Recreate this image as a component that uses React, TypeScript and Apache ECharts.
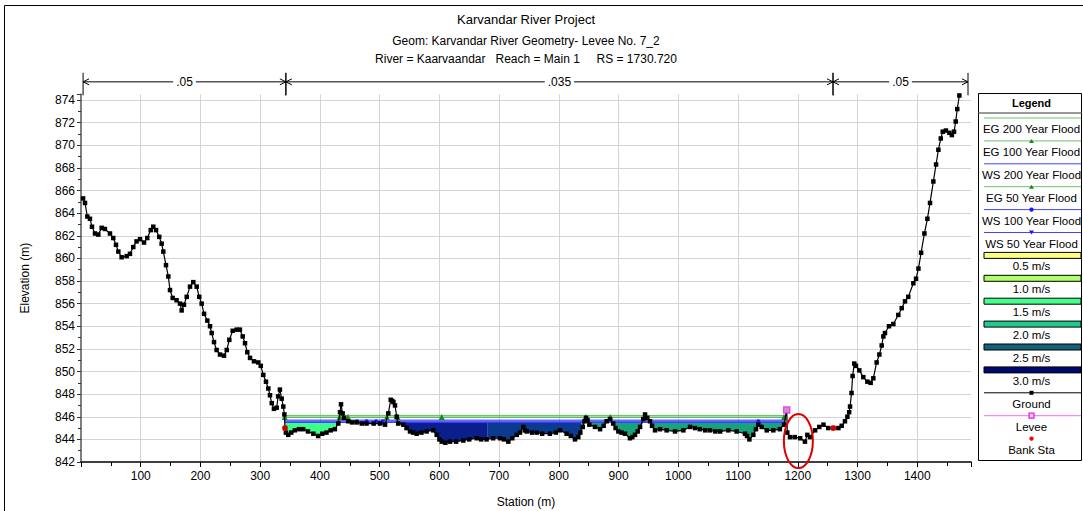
import React, { useEffect, useRef } from 'react';
import * as echarts from 'echarts';

// ---- Cross-section data -------------------------------------------------
const titleLines = [
  'Karvandar River Project',
  'Geom: Karvandar River Geometry- Levee No. 7_2',
  'River = Kaarvaandar   Reach = Main 1     RS = 1730.720',
];

// Ground points: [station (m), elevation (m)]
const groundProfile: [number, number][] = [
  [3.5, 865.3], [6.7, 864.9], [10.6, 863.7], [15, 863.5], [18.4, 862.8], [23.4, 862.2], [29, 862.1],
  [34.6, 862.7], [40, 862.6], [48.5, 862.2], [54, 861.8], [58.6, 861.2], [62.5, 860.6], [68, 860.1],
  [76.5, 860.2], [82, 860.4], [87.5, 861.0], [93, 861.5], [98.8, 861.7], [105.5, 861.4], [111, 861.8],
  [116.7, 862.5], [121, 862.8], [125.6, 862.5], [131, 861.9], [135, 861.3], [137.8, 860.6], [142.3, 859.4],
  [146.2, 858.4], [149, 857.2], [153.5, 856.5], [160, 856.3], [165.7, 856.0], [168.5, 855.4], [172.4, 855.9],
  [177, 856.6], [182.5, 857.5], [188, 857.9], [193.7, 857.5], [198, 856.6], [202, 856.0], [206, 855.1],
  [211.5, 854.5], [216, 854.0], [218.8, 853.4], [222.7, 852.6], [227, 851.9], [232.7, 851.5], [239.4, 851.4],
  [244, 851.9], [248.3, 852.8], [254, 853.6], [260.7, 853.7], [266, 853.7], [270.7, 853.1], [274.6, 852.5],
  [278.4, 851.7], [283, 851.2], [289.6, 850.9], [296.8, 850.8], [300.9, 850.5], [305.2, 849.7], [309.7, 849.1],
  [313.6, 848.5], [316.4, 847.9], [319.3, 847.2], [323, 846.7], [327.6, 846.8], [330, 847.8], [333, 848.4],
  [336, 847.6], [338.7, 846.9], [340.5, 846.2], [341.5, 845.0], [343, 844.6], [347, 844.4], [352, 844.6],
  [358, 844.8], [365, 844.9], [372, 844.9], [380, 844.7], [389, 844.5], [397, 844.3], [404, 844.5],
  [411, 844.6], [418, 844.8], [425, 844.9], [430.8, 845.4], [433.6, 846.4], [435.3, 847.1], [438, 846.3],
  [440.3, 845.9], [447.5, 845.6], [454, 845.5], [461.5, 845.5], [470, 845.4], [478, 845.4], [490, 845.4],
  [500.6, 845.4], [509, 845.3], [514.5, 846.3], [518.5, 847.5], [521, 847.4], [523, 847.3], [525.7, 847.0],
  [528.5, 846.0], [531, 845.4], [539.6, 845.3], [545, 845.0], [550.8, 844.7], [556, 844.6], [562, 844.5],
  [570, 844.6], [578.6, 844.7], [589.8, 844.8], [595.5, 844.4], [600, 844.0], [604, 843.8], [610, 843.7],
  [617.8, 843.8], [628, 843.8], [640, 843.9], [650, 844.0], [662.5, 844.1], [670, 844.0], [679, 844.0],
  [690, 844.1], [701.5, 844.1], [708, 844.0], [715.4, 843.8], [722, 844.1], [729.5, 844.4], [735, 844.6],
  [740.6, 845.1], [743, 844.8], [746.2, 844.7], [755, 844.6], [763, 844.6], [772, 844.5], [785, 844.5],
  [795, 844.6], [802, 844.8], [813, 844.5], [820, 844.3], [827, 844.0], [832.6, 844.2], [836, 844.6],
  [840, 845.1], [843, 845.6], [845.5, 845.9], [848, 845.7], [851, 845.3], [860.5, 845.1], [869, 844.9],
  [875, 845.2], [880, 845.6], [885.6, 845.8], [891, 845.4], [895, 845.0], [899.6, 844.7], [905, 844.6],
  [910.8, 844.5], [919, 844.1], [923, 844.2], [927.5, 844.4], [932, 844.7], [936, 845.1], [941.4, 845.8],
  [944.3, 846.2], [948, 845.9], [952.6, 845.6], [956, 845.2], [961, 844.8], [969.4, 844.9], [980.5, 844.8],
  [994.5, 844.7], [1008.5, 844.8], [1019.7, 845.1], [1028, 845.0], [1036, 844.9], [1045, 844.8], [1053, 844.8],
  [1062, 844.7], [1070, 844.7], [1083.7, 844.8], [1097.7, 844.7], [1111.7, 844.5], [1115, 844.3], [1119, 844.0],
  [1125.6, 844.4], [1130, 844.9], [1134, 845.3], [1139.6, 845.1], [1148, 844.8], [1159, 844.8], [1170, 844.9],
  [1177, 845.3], [1181.5, 846.6], [1182.5, 844.6], [1187, 844.2], [1195, 844.2], [1204, 844.1], [1212, 843.8],
  [1216, 844.4], [1220.5, 844.2], [1229, 844.8], [1236, 845.1], [1243, 845.3], [1251, 845.0], [1259.5, 845.0],
  [1268, 845.0], [1273.5, 845.2], [1279, 845.6], [1283, 846.0], [1286, 846.4], [1287.5, 846.9], [1290, 848.1],
  [1291.8, 849.6], [1294.6, 850.7], [1297.4, 850.5], [1303, 850.1], [1309.7, 849.5], [1316.5, 849.1], [1322, 849.0],
  [1326.5, 849.4], [1332, 850.8], [1336.6, 851.5], [1340.5, 852.3], [1343.3, 853.1], [1346, 853.4], [1352.7, 854.0],
  [1360, 854.2], [1368.3, 855.0], [1374, 855.6], [1379.5, 856.2], [1385, 856.6], [1393.5, 857.8], [1398, 858.2],
  [1402, 859.1], [1406.5, 860.5], [1412, 862.2], [1417, 863.5], [1421.4, 864.9], [1427, 866.8], [1431.5, 868.3],
  [1435.4, 869.6], [1439.4, 870.6], [1442.7, 871.2], [1448, 871.3], [1453.8, 871.1], [1458, 870.9], [1461.6, 871.2],
  [1464.4, 872.1], [1467, 873.2], [1470.5, 874.4], [1473, 875.6],
];

const bankStations: [number, number][] = [[341.5, 845.0], [1259.5, 845.0]];
const leveePoints: [number, number][] = [[1181.5, 846.6]];

// Water surface / energy grade profiles
const profileNames = ['EG 200 Year Flood', 'EG 100 Year Flood', 'WS 200 Year Flood', 'EG 50 Year Flood', 'WS 100 Year Flood', 'WS 50 Year Flood'];
const profileElev = [846.12, 845.98, 845.7, 845.93, 845.6, 845.5];
const waterLeft = 341;
const waterRight = 1180;
const egMarkerStations = [341, 433, 447, 512, 530, 604, 845, 886, 944, 1177];
const wsMarkerStations = [462, 478, 494, 505, 1134];

// Velocity distribution
const velocityClasses = [0.5, 1.0, 1.5, 2.0, 2.5, 3.0];
const zoneStart = [341, 438, 528, 680, 838];
const zoneEnd = [438, 528, 680, 838, 1180];
const zoneVelocity = [1.5, 3.0, 3.0, 2.8, 2.0];

// Manning's n regions
const manningStart = [3.5, 343, 1259];
const manningEnd = [343, 1259, 1485];
const manningN = ['.05', '.035', '.05'];

// Highlighted spot
const flaggedPoints: [number, number][] = [[1201, 843.85]];

// ---- Styling helpers ----------------------------------------------------
const FONT = "'Liberation Sans', Arial, sans-serif";
const X_MIN = 0;
const X_MAX = 1490;
const Y_MIN = 842;
const Y_MAX = 874.5;

const legendSwatch = ['#ffff80', '#b0ff6a', '#44ff8a', '#22c98c', '#12607a', '#000a6e'];

function fillColor(v: number): string {
  if (v >= 3) return '#0a1f8c';
  if (v >= 2.75) return '#0b3b8e';
  if (v >= 2.5) return '#0f5c7a';
  if (v >= 2) return '#17a37e';
  if (v >= 1.5) return '#3cff8a';
  if (v >= 1) return '#b0ff6a';
  return '#ffff80';
}

function groundAt(s: number): number {
  for (let i = 0; i < groundProfile.length - 1; i++) {
    const [s0, e0] = groundProfile[i];
    const [s1, e1] = groundProfile[i + 1];
    if (s >= s0 && s <= s1) return s1 === s0 ? e0 : e0 + ((e1 - e0) * (s - s0)) / (s1 - s0);
  }
  return groundProfile[groundProfile.length - 1][1];
}

function profileLine(elev: number, markers: number[]) {
  const pts: any[] = [{ value: [waterLeft, elev], symbol: 'none' }];
  markers.forEach((s) => pts.push([s, elev]));
  pts.push({ value: [waterRight, elev], symbol: 'none' });
  return pts;
}

function buildLegend() {
  const left = 978.5;
  const right = 1081.5;
  const lx0 = 984;
  const lx1 = 1081;
  const cx = 1031.5;
  const y0 = 118;
  const step = 22.9;
  const children: any[] = [
    { type: 'rect', shape: { x: left, y: 93.5, width: right - left, height: 367 }, style: { fill: '#fff', stroke: '#000', lineWidth: 1 } },
    { type: 'text', style: { text: 'Legend', x: cx, y: 103, align: 'center', verticalAlign: 'middle', font: `bold 11px ${FONT}`, fill: '#000' } },
    { type: 'line', shape: { x1: left, y1: 113, x2: right, y2: 113 }, style: { stroke: '#777', lineWidth: 1.5 } },
  ];
  const green = '#6cc06c';
  const blue = '#4444ff';
  const entries: any[] = [
    { label: profileNames[0], line: green },
    { label: profileNames[1], line: green, marker: 'tri', mColor: '#1a8a1a' },
    { label: profileNames[2], line: blue },
    { label: profileNames[3], line: green, marker: 'tri', mColor: '#1a8a1a' },
    { label: profileNames[4], line: blue, marker: 'dot', mColor: '#1a1aff' },
    { label: profileNames[5], line: blue, marker: 'triDown', mColor: '#1a1aff' },
    ...velocityClasses.map((v, i) => ({ label: `${v.toFixed(1)} m/s`, swatch: legendSwatch[i] })),
    { label: 'Ground', line: '#000', marker: 'sq', mColor: '#000' },
    { label: 'Levee', line: '#ff66ff', marker: 'openSq', mColor: '#e020e0' },
    { label: 'Bank Sta', marker: 'dot', mColor: '#ff0000' },
  ];
  entries.forEach((e, i) => {
    const y = y0 + i * step;
    if (e.swatch) {
      children.push({ type: 'rect', shape: { x: lx0, y: y - 3, width: lx1 - lx0, height: 6 }, style: { fill: e.swatch, stroke: '#000', lineWidth: 1 } });
    }
    if (e.line) {
      children.push({ type: 'line', shape: { x1: lx0, y1: y, x2: lx1, y2: y }, style: { stroke: e.line, lineWidth: 1 } });
    }
    if (e.marker === 'tri') {
      children.push({ type: 'polygon', shape: { points: [[cx - 2.5, y + 2], [cx + 2.5, y + 2], [cx, y - 2]] }, style: { fill: e.mColor } });
    } else if (e.marker === 'triDown') {
      children.push({ type: 'polygon', shape: { points: [[cx - 2.5, y - 2], [cx + 2.5, y - 2], [cx, y + 2]] }, style: { fill: e.mColor } });
    } else if (e.marker === 'dot') {
      children.push({ type: 'circle', shape: { cx, cy: y, r: 2.2 }, style: { fill: e.mColor } });
    } else if (e.marker === 'sq') {
      children.push({ type: 'rect', shape: { x: cx - 2, y: y - 2, width: 4, height: 4 }, style: { fill: e.mColor } });
    } else if (e.marker === 'openSq') {
      children.push({ type: 'rect', shape: { x: cx - 2.5, y: y - 2.5, width: 5, height: 5 }, style: { fill: '#ffc0ff', stroke: e.mColor, lineWidth: 1.2 } });
    }
    children.push({ type: 'text', style: { text: e.label, x: cx, y: y + 11, align: 'center', verticalAlign: 'middle', font: `11.5px ${FONT}`, fill: '#000' } });
  });
  return { type: 'group', silent: true, children };
}

export default function App() {
  const ref = useRef<HTMLDivElement>(null);

  useEffect(() => {
    if (!ref.current) return;
    const chart = echarts.init(ref.current, undefined, { renderer: 'svg' });

    const wsTop = profileElev[5];

    const option: any = {
      animation: false,
      backgroundColor: '#fff',
      textStyle: { fontFamily: FONT },
      grid: { left: 81, right: 112, top: 94.35, bottom: 49, containLabel: false, outerBoundsMode: 'none' },
      xAxis: {
        type: 'value',
        min: X_MIN,
        max: X_MAX,
        interval: 100,
        name: 'Station (m)',
        nameLocation: 'middle',
        nameGap: 34,
        nameTextStyle: { fontSize: 12, color: '#000', fontFamily: FONT },
        axisLine: { show: true, onZero: false, lineStyle: { color: '#000', width: 1.5 } },
        axisTick: { show: true, length: 5, lineStyle: { color: '#000' } },
        minorTick: { show: true, splitNumber: 2, length: 4, lineStyle: { color: '#000' } },
        axisLabel: {
          margin: 8,
          fontSize: 12,
          color: '#000',
          fontFamily: FONT,
          showMinLabel: false,
          formatter: (v: number) => (v > 0 && v % 100 === 0 ? String(v) : ''),
        },
        splitLine: { show: true, showMinLine: false, showMaxLine: false, lineStyle: { color: '#d4d4d4', width: 1 } },
      },
      yAxis: {
        type: 'value',
        min: Y_MIN,
        max: Y_MAX,
        interval: 2,
        name: 'Elevation (m)',
        nameLocation: 'middle',
        nameGap: 50,
        nameTextStyle: { fontSize: 12, color: '#000', fontFamily: FONT },
        axisLine: { show: true, onZero: false, lineStyle: { color: '#555', width: 1.5 } },
        axisTick: { show: true, length: 4, lineStyle: { color: '#333' } },
        minorTick: { show: true, splitNumber: 2, length: 3, lineStyle: { color: '#333' } },
        axisLabel: {
          margin: 6,
          fontSize: 12,
          color: '#000',
          fontFamily: FONT,
          formatter: (v: number) => (Math.abs(v % 2) < 1e-9 ? String(v) : ''),
        },
        splitLine: { show: true, showMinLine: false, showMaxLine: false, lineStyle: { color: '#d4d4d4', width: 1 } },
      },
      series: [
        {
          name: 'velocity',
          type: 'custom',
          z: 2,
          clip: true,
          encode: { x: [0, 1], y: 2 },
          data: zoneStart.map((s, i) => [s, zoneEnd[i], wsTop]),
          renderItem: (params: any, api: any) => {
            const i = params.dataIndex;
            const a = zoneStart[i];
            const b = zoneEnd[i];
            const pts: number[][] = [api.coord([a, wsTop]), api.coord([b, wsTop])];
            pts.push(api.coord([b, Math.min(groundAt(b), wsTop)]));
            for (let k = groundProfile.length - 1; k >= 0; k--) {
              const [s, e] = groundProfile[k];
              if (s > a && s < b) pts.push(api.coord([s, Math.min(e, wsTop)]));
            }
            pts.push(api.coord([a, Math.min(groundAt(a), wsTop)]));
            return { type: 'polygon', shape: { points: pts }, style: { fill: fillColor(zoneVelocity[i]), stroke: null } };
          },
        },
        ...profileNames.map((name, i) => {
          const isEG = name.startsWith('EG');
          const withMarkers = i === 1 || i === 4;
          return {
            name,
            type: 'line',
            z: 3,
            data: profileLine(profileElev[i], withMarkers ? (isEG ? egMarkerStations : wsMarkerStations) : []),
            showSymbol: withMarkers,
            symbol: isEG ? 'triangle' : 'circle',
            symbolSize: isEG ? 6 : 4,
            itemStyle: { color: isEG ? '#1a8a1a' : '#1a1aff' },
            lineStyle: { color: isEG ? '#5fbb5f' : '#3333ff', width: 1 },
            silent: true,
          };
        }),
        {
          name: 'Ground',
          type: 'line',
          z: 4,
          data: groundProfile,
          symbol: 'rect',
          symbolSize: 4.5,
          showSymbol: true,
          showAllSymbol: true,
          itemStyle: { color: '#000' },
          lineStyle: { color: '#000', width: 1.2 },
          silent: true,
        },
        {
          name: 'Levee',
          type: 'scatter',
          z: 5,
          data: leveePoints,
          symbol: 'rect',
          symbolSize: 6,
          itemStyle: { color: '#ffb0ff', borderColor: '#e020e0', borderWidth: 1.5 },
        },
        {
          name: 'Bank Sta',
          type: 'scatter',
          z: 5,
          data: bankStations,
          symbol: 'circle',
          symbolSize: 6,
          itemStyle: { color: '#ff0000' },
        },
        {
          name: 'flag',
          type: 'custom',
          z: 6,
          clip: false,
          encode: { x: 0, y: 1 },
          data: flaggedPoints,
          renderItem: (params: any, api: any) => {
            const c = api.coord(flaggedPoints[params.dataIndex]);
            return { type: 'ellipse', shape: { cx: c[0], cy: c[1], rx: 14.5, ry: 27 }, style: { fill: 'none', stroke: '#e00000', lineWidth: 2 } };
          },
        },
        {
          name: 'manning',
          type: 'custom',
          z: 6,
          clip: false,
          encode: { x: [0, 1], y: 2 },
          data: manningStart.map((s, i) => [s, manningEnd[i], Y_MAX]),
          renderItem: (params: any, api: any) => {
            const i = params.dataIndex;
            const p1 = api.coord([manningStart[i], Y_MAX]);
            const p2 = api.coord([manningEnd[i], Y_MAX]);
            const top = p1[1];
            const y = top - 12.5;
            const x1 = p1[0];
            const x2 = p2[0];
            const stroke = { stroke: '#000', lineWidth: 1, fill: 'none' };
            return {
              type: 'group',
              children: [
                { type: 'line', shape: { x1, y1: y, x2, y2: y }, style: stroke },
                { type: 'polyline', shape: { points: [[x1 + 6, y - 3], [x1, y], [x1 + 6, y + 3]] }, style: stroke },
                { type: 'polyline', shape: { points: [[x2 - 6, y - 3], [x2, y], [x2 - 6, y + 3]] }, style: stroke },
                { type: 'line', shape: { x1, y1: y - 9, x2: x1, y2: top + 1 }, style: stroke },
                { type: 'line', shape: { x1: x2, y1: y - 9, x2, y2: top + 1 }, style: stroke },
                {
                  type: 'text',
                  style: {
                    text: manningN[i],
                    x: (x1 + x2) / 2,
                    y,
                    align: 'center',
                    verticalAlign: 'middle',
                    font: `12px ${FONT}`,
                    fill: '#000',
                    backgroundColor: '#fff',
                    padding: [1, 3],
                  },
                },
              ],
            };
          },
        },
      ],
      graphic: [
        { type: 'rect', silent: true, shape: { x: 4.5, y: 5.5, width: 1100, height: 600 }, style: { fill: 'none', stroke: '#000', lineWidth: 1 } },
        { type: 'text', silent: true, style: { text: titleLines[0], x: 526, y: 19, align: 'center', verticalAlign: 'middle', font: `13px ${FONT}`, fill: '#000' } },
        { type: 'text', silent: true, style: { text: titleLines[1], x: 526, y: 41, align: 'center', verticalAlign: 'middle', font: `12px ${FONT}`, fill: '#000' } },
        { type: 'text', silent: true, style: { text: titleLines[2], x: 526, y: 59, align: 'center', verticalAlign: 'middle', font: `12px ${FONT}`, fill: '#000' } },
        buildLegend(),
      ],
    };

    chart.setOption(option);
    return () => chart.dispose();
  }, []);

  return (
    <div style={{ position: 'absolute', left: 0, top: 0, width: 1083, height: 511, background: '#fff' }}>
      <div ref={ref} style={{ width: 1083, height: 511 }} />
    </div>
  );
}
